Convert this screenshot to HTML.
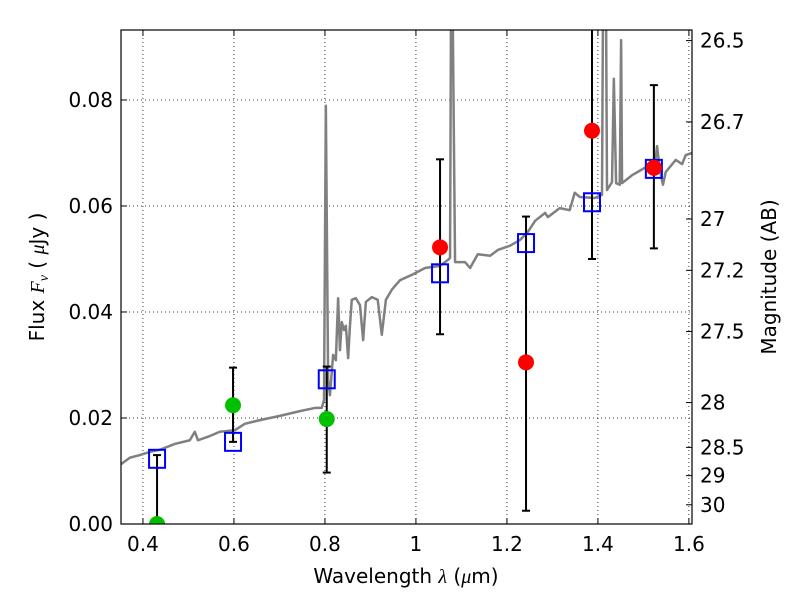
<!DOCTYPE html>
<html><head><meta charset="utf-8"><style>
body{margin:0;background:#fff;}
svg{font-family:"DejaVu Sans","Liberation Sans",sans-serif;}
</style></head><body>
<svg id="chart" width="800" height="600" viewBox="0 0 800 600" xmlns="http://www.w3.org/2000/svg">
<defs><clipPath id="clip"><rect x="121" y="30" width="571" height="494"/></clipPath></defs>
<rect x="0" y="0" width="800" height="600" fill="#fff"/>
<g id="grid"></g>
<g id="spec" clip-path="url(#clip)"></g>
<g id="marks" clip-path="url(#clip)"></g>
<rect x="121" y="30" width="571" height="494" fill="none" stroke="#000" stroke-width="1.2"/>
<g id="axes"></g>
<text x="406" y="583" font-size="20" text-anchor="middle">Wavelength  <tspan font-style="italic" font-family="Liberation Serif, serif">λ</tspan> (<tspan font-style="italic" font-family="Liberation Serif, serif">μ</tspan>m)</text>
<text transform="translate(44,277) rotate(-90)" font-size="20" text-anchor="middle">Flux  <tspan font-style="italic" font-family="Liberation Serif, serif">F</tspan><tspan font-style="italic" font-family="Liberation Serif, serif" font-size="14" dy="4">ν</tspan><tspan dy="-4">  ( </tspan><tspan font-style="italic" font-family="Liberation Serif, serif">μ</tspan>Jy )</text>
<text transform="translate(776,277) rotate(-90)" font-size="20" text-anchor="middle">Magnitude (AB)</text>
</svg>
<script>
const xTicks=[0.4,0.6,0.8,1.0,1.2,1.4,1.6];
const xTickLabels=["0.4","0.6","0.8","1","1.2","1.4","1.6"];
const yTicks=[0,0.02,0.04,0.06,0.08];
const yTickLabels=["0.00","0.02","0.04","0.06","0.08"];
const magTicks=[26.5,26.7,27,27.2,27.5,28,28.5,29,30];
const magTickLabels=["26.5","26.7","27","27.2","27.5","28","28.5","29","30"];
const modelWave=[0.431,0.598,0.804,1.053,1.242,1.387,1.523];
const modelFlux=[0.0123,0.0155,0.0273,0.0473,0.0530,0.0607,0.0670];
const redWave=[1.053,1.242,1.387,1.523];
const redFlux=[0.0522,0.0305,0.0742,0.0672];
const greenWave=[0.431,0.598,0.804];
const greenFlux=[0.0,0.0224,0.0198];
const errWave=[0.431,0.598,0.804,1.053,1.242,1.387,1.523];
const errLow=[0.0,0.0155,0.0097,0.0358,0.0025,0.0500,0.0520];
const errHigh=[0.0130,0.0295,0.0297,0.0688,0.0580,0.1000,0.0828];
const specWave=[0.352,0.371,0.393,0.415,0.437,0.470,0.503,0.514,0.521,0.547,0.569,0.602,0.624,0.657,0.701,0.745,0.778,0.793,0.798,0.802,0.807,0.811,0.818,0.824,0.829,0.833,0.837,0.842,0.846,0.851,0.855,0.859,0.868,0.877,0.884,0.890,0.903,0.916,0.925,0.934,0.947,0.965,0.991,1.020,1.053,1.070,1.075,1.077,1.081,1.086,1.108,1.119,1.136,1.163,1.180,1.207,1.229,1.246,1.262,1.284,1.290,1.316,1.338,1.349,1.360,1.393,1.409,1.411,1.418,1.420,1.431,1.435,1.440,1.448,1.451,1.453,1.475,1.503,1.525,1.530,1.536,1.543,1.549,1.571,1.585,1.593,1.607];
const specFlux=[0.0113,0.0125,0.0130,0.0136,0.0140,0.0151,0.0158,0.0174,0.0158,0.0166,0.0174,0.0177,0.0189,0.0196,0.0204,0.0213,0.0219,0.0219,0.0234,0.0789,0.0272,0.0243,0.0319,0.0309,0.0426,0.0328,0.0381,0.0366,0.0374,0.0313,0.0374,0.0423,0.0426,0.0413,0.0347,0.0419,0.0428,0.0423,0.0357,0.0423,0.0442,0.0460,0.0470,0.0483,0.0487,0.0498,0.0502,0.095,0.095,0.0494,0.0494,0.0483,0.0509,0.0506,0.0517,0.0525,0.0536,0.0551,0.0572,0.0587,0.0579,0.0596,0.0592,0.0625,0.0617,0.0615,0.0621,0.095,0.095,0.0630,0.0645,0.0840,0.0643,0.0640,0.0913,0.0643,0.0658,0.0672,0.0677,0.0713,0.0668,0.0640,0.0664,0.0687,0.0679,0.0696,0.0700];

const X0=121,X1=692,Y0=30,Y1=524;
const xMin=0.35176,xMax=1.6068,yMin=0,yMax=0.0932;
const sx=v=>X0+(v-xMin)/(xMax-xMin)*(X1-X0);
const sy=v=>Y1-(v-yMin)/(yMax-yMin)*(Y1-Y0);
const magToFlux=m=>Math.pow(10,(23.9-m)/2.5);
const NS="http://www.w3.org/2000/svg";
function mk(tag,parent,attrs){const e=document.createElementNS(NS,tag);for(const k in attrs)e.setAttribute(k,attrs[k]);parent.appendChild(e);return e;}
const grid=document.getElementById('grid'),axes=document.getElementById('axes'),spec=document.getElementById('spec'),marks=document.getElementById('marks');

xTicks.forEach((t,i)=>{const x=sx(t);
 let g=mk('line',grid,{x1:x,x2:x,y1:Y0,y2:Y1,stroke:'#000','stroke-width':0.8,'stroke-dasharray':'1,3'});
 
 
 mk('line',axes,{x1:x,x2:x,y1:Y1,y2:Y1-6,stroke:'#000'});
 mk('line',axes,{x1:x,x2:x,y1:Y0,y2:Y0+6,stroke:'#000'});
 let l=mk('text',axes,{x:x,y:Y1+27,'font-size':20,'text-anchor':'middle'});l.textContent=xTickLabels[i];
 
 
});
yTicks.forEach((t,i)=>{const y=sy(t);
 let g=mk('line',grid,{x1:X0,x2:X1,y1:y,y2:y,stroke:'#000','stroke-width':0.8,'stroke-dasharray':'1,3'});
 
 
 mk('line',axes,{x1:X0,x2:X0+6,y1:y,y2:y,stroke:'#000'});
 let l=mk('text',axes,{x:X0-8,y:y+7,'font-size':20,'text-anchor':'end'});l.textContent=yTickLabels[i];
 
 
});
magTicks.forEach((m,i)=>{const y=sy(magToFlux(m));
 mk('line',axes,{x1:X1,x2:X1-6,y1:y,y2:y,stroke:'#000'});
 let l=mk('text',axes,{x:X1+8,y:y+7,'font-size':20,'text-anchor':'start'});l.textContent=magTickLabels[i];
 
 
});

const pl=mk('polyline',spec,{points:specWave.map((w,i)=>sx(w)+','+sy(specFlux[i])).join(' '),fill:'none',stroke:'#808080','stroke-width':2.5,'stroke-linejoin':'round'});



errWave.forEach((w,i)=>{const x=sx(w),a=sy(errLow[i]),b=sy(errHigh[i]);
 let e=mk('line',marks,{x1:x,x2:x,y1:a,y2:b,stroke:'#000','stroke-width':2});
 
 
 mk('line',marks,{x1:x-4,x2:x+4,y1:a,y2:a,stroke:'#000','stroke-width':2});
 mk('line',marks,{x1:x-4,x2:x+4,y1:b,y2:b,stroke:'#000','stroke-width':2});
});
modelWave.forEach((w,i)=>{
 let r=mk('rect',marks,{x:sx(w)-8,y:sy(modelFlux[i])-9,width:16,height:18,fill:'none',stroke:'#0000ff','stroke-width':2});
 
 
});
greenWave.forEach((w,i)=>{
 let c=mk('circle',marks,{cx:sx(w),cy:sy(greenFlux[i]),r:8,fill:'#00c000'});
 
 
});
redWave.forEach((w,i)=>{
 let c=mk('circle',marks,{cx:sx(w),cy:sy(redFlux[i]),r:8,fill:'#ff0000'});
 
 
});
</script>
</body></html>
